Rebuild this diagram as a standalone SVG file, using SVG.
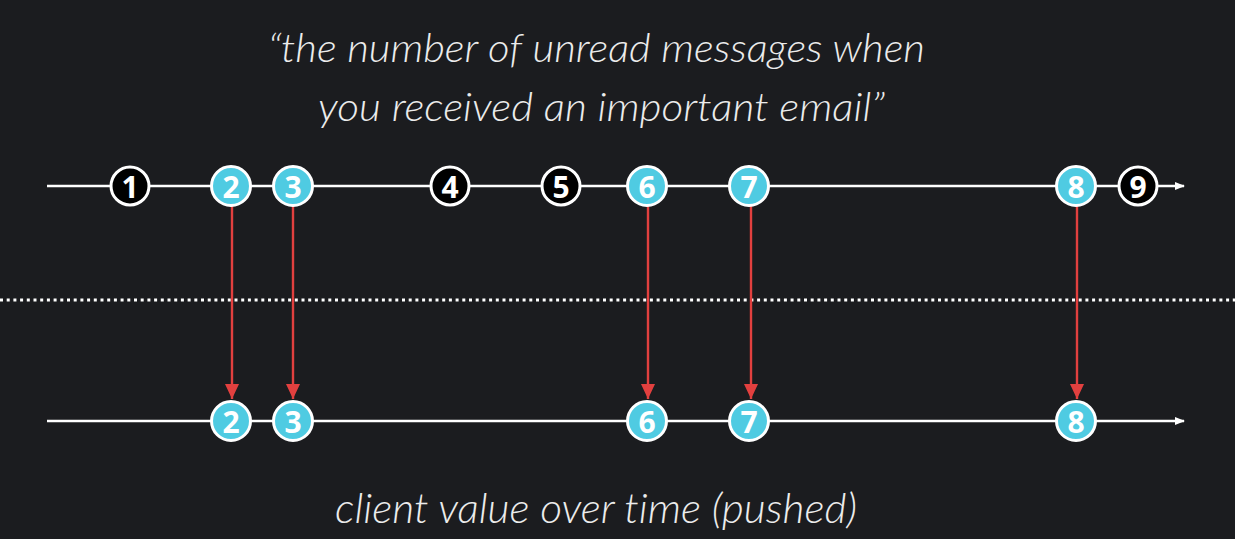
<svg xmlns="http://www.w3.org/2000/svg" width="1235" height="539" viewBox="0 0 1235 539">
  <style>
    .bg { fill: #1b1c1f; }
    .caption { font-family: Lato, "Open Sans", "Liberation Sans", sans-serif; font-style: italic; font-weight: 300; fill: #ececec; font-variant-ligatures: none; }
    .axis { stroke: #ffffff; stroke-width: 2.6; fill: none; }
    .dots { stroke: #ffffff; stroke-width: 3; stroke-dasharray: 3 3.7; fill: none; }
    .push { stroke: #e2403f; stroke-width: 2.4; fill: none; }
    .ev circle { stroke: #ffffff; stroke-width: 3; }
    .ev.plain circle { fill: #000000; }
    .ev.hit circle { fill: #4fcbe2; }
    .ev text { font-family: "Open Sans", "Liberation Sans", sans-serif; font-weight: 700; font-size: 30px; fill: #ffffff; text-anchor: middle; dominant-baseline: central; }
  </style>
  <defs>
    <marker id="axisHead" markerWidth="10" markerHeight="10" refX="9" refY="5" orient="auto" markerUnits="userSpaceOnUse">
      <path d="M0,1 L10,5 L0,9 Z" fill="#ffffff"/>
    </marker>
    <marker id="pushHead" markerWidth="14" markerHeight="16" refX="7" refY="15" orient="0" markerUnits="userSpaceOnUse">
      <path d="M0,0 L14,0 L7,15 Z" fill="#e2403f"/>
    </marker>
  </defs>

  <rect class="bg" x="0" y="0" width="1235" height="539"/>

  <text class="caption" x="268" y="62" font-size="40" textLength="657" lengthAdjust="spacingAndGlyphs">“the number of unread messages when</text>
  <text class="caption" x="318" y="121" font-size="40" textLength="567" lengthAdjust="spacingAndGlyphs">you received an important email”</text>
  <text class="caption" x="335" y="523" font-size="41" textLength="522" lengthAdjust="spacingAndGlyphs">client value over time (pushed)</text>

  <g id="connectors">
    <line class="axis" x1="47" y1="186" x2="1184" y2="186" marker-end="url(#axisHead)"/>
    <line class="axis" x1="47" y1="421" x2="1184" y2="421" marker-end="url(#axisHead)"/>
    <line class="dots" x1="0" y1="300" x2="1235" y2="300"/>
    <line class="push" x1="232" y1="206" x2="232" y2="399" marker-end="url(#pushHead)"/>
    <line class="push" x1="293" y1="206" x2="293" y2="399" marker-end="url(#pushHead)"/>
    <line class="push" x1="648" y1="206" x2="648" y2="399" marker-end="url(#pushHead)"/>
    <line class="push" x1="751" y1="206" x2="751" y2="399" marker-end="url(#pushHead)"/>
    <line class="push" x1="1077" y1="206" x2="1077" y2="399" marker-end="url(#pushHead)"/>
  </g>

  <!-- source events -->
  <g id="src-1" class="ev plain"><circle cx="130" cy="186" r="19"/><text x="130" y="186">1</text></g>
  <g id="src-2" class="ev hit"><circle cx="231" cy="186" r="19.5"/><text x="231" y="186">2</text></g>
  <g id="src-3" class="ev hit"><circle cx="293" cy="186" r="19.5"/><text x="293" y="186">3</text></g>
  <g id="src-4" class="ev plain"><circle cx="450" cy="186" r="19"/><text x="450" y="186">4</text></g>
  <g id="src-5" class="ev plain"><circle cx="561" cy="186" r="19"/><text x="561" y="186">5</text></g>
  <g id="src-6" class="ev hit"><circle cx="647" cy="186" r="19.5"/><text x="647" y="186">6</text></g>
  <g id="src-7" class="ev hit"><circle cx="749" cy="186" r="19.5"/><text x="749" y="186">7</text></g>
  <g id="src-8" class="ev hit"><circle cx="1076" cy="186" r="19.5"/><text x="1076" y="186">8</text></g>
  <g id="src-9" class="ev plain"><circle cx="1138" cy="186" r="19"/><text x="1138" y="186">9</text></g>

  <!-- client events -->
  <g id="out-2" class="ev hit"><circle cx="231" cy="421" r="19.5"/><text x="231" y="421">2</text></g>
  <g id="out-3" class="ev hit"><circle cx="293" cy="421" r="19.5"/><text x="293" y="421">3</text></g>
  <g id="out-6" class="ev hit"><circle cx="647" cy="421" r="19.5"/><text x="647" y="421">6</text></g>
  <g id="out-7" class="ev hit"><circle cx="749" cy="421" r="19.5"/><text x="749" y="421">7</text></g>
  <g id="out-8" class="ev hit"><circle cx="1076" cy="421" r="19.5"/><text x="1076" y="421">8</text></g>
</svg>
